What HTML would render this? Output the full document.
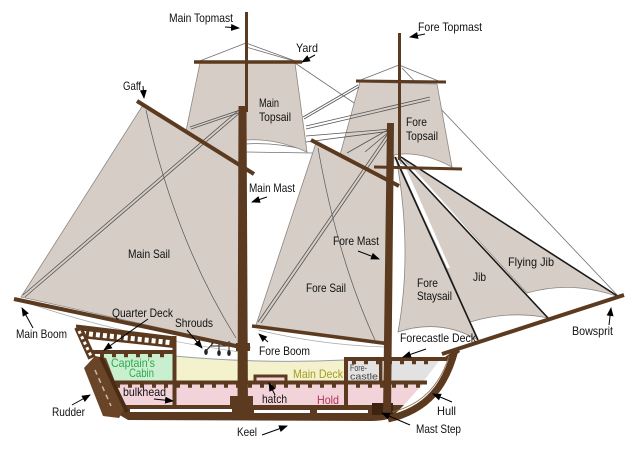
<!DOCTYPE html>
<html><head><meta charset="utf-8"><style>
html,body{margin:0;padding:0;background:#fff;}
svg{display:block;}
text{font-family:"Liberation Sans",Arial,sans-serif;font-size:12px;fill:#111;}
</style></head><body>
<svg width="640" height="449" viewBox="0 0 640 449" xmlns="http://www.w3.org/2000/svg">
<defs>
<marker id="ah" markerWidth="9" markerHeight="8" refX="8" refY="4" orient="auto" markerUnits="userSpaceOnUse">
<path d="M0,0.5 L9,4 L0,7.5 Z" fill="#000"/>
</marker>
</defs>
<rect width="640" height="449" fill="#fff"/>

<!-- background rigging -->
<g stroke="#707070" stroke-width="0.8" fill="none">
 <line x1="246" y1="43" x2="197" y2="62"/>
 <line x1="246" y1="43" x2="298" y2="62"/>
 <line x1="246" y1="47" x2="301" y2="63"/>
 <line x1="399" y1="65" x2="358" y2="81"/>
 <line x1="399" y1="65" x2="441" y2="82"/>
 <line x1="295" y1="63" x2="391" y2="128"/>
 <line x1="402" y1="68" x2="619" y2="297"/>
 <path d="M246,138 Q280,136 307,151"/>
 <path d="M246,144 Q275,142 306,150"/>
 <line x1="246" y1="152" x2="313" y2="153"/>
 <path d="M394,152 Q430,150 452,166"/>
</g>

<!-- sails -->
<g fill="#d5cdc6" stroke="#8d8782" stroke-width="0.8">
 <path d="M200,63 L295,63 L307,152 Q275,138 246,140 L246,169 L186,131 Z"/>
 <path d="M143,105 L242,166 L242,346 L21,297 Z"/>
 <path d="M360,82 L437,84 L452,167 Q420,150 394,155 L393,183 L340,155 Z"/>
 <path d="M316,143 L389,181 L387,342 L256,325 Z"/>
 <path d="M396,157 L478,340 Q440,318 398,332 Q413,250 396,157 Z"/>
 <path d="M398,157 L548,318 Q510,310 470,322 Z"/>
 <path d="M401,157 L619,297 Q572,280 527,293 Z"/>
</g>
<!-- slivers -->
<path d="M399,163 L405,166 L450,268 L447,268 Z" fill="#fff"/>
<path d="M405,163 L413,168 L492,256 L489,256 Z" fill="#fff"/>

<!-- sail seams -->
<g stroke="#555" stroke-width="0.7" fill="none">
 <path d="M146,110 Q175,240 236,338"/>
 <path d="M318,148 Q338,260 375,340"/>
 <path d="M25,302 Q120,335 240,352" stroke="#aaa"/>
 <path d="M258,330 Q320,345 385,347" stroke="#aaa"/>
</g>

<!-- rigging over sails -->
<g stroke="#555" stroke-width="0.8" fill="none">
 <line x1="23" y1="295" x2="240" y2="109"/>
 <line x1="25" y1="297" x2="242" y2="111"/>
 <line x1="190" y1="127" x2="240" y2="110"/>
 <line x1="191" y1="129" x2="241" y2="112"/>
 <line x1="303" y1="117" x2="358" y2="85"/>
 <line x1="304" y1="119" x2="359" y2="87"/>
 <line x1="306" y1="126" x2="430" y2="97"/>
 <line x1="306" y1="129" x2="430" y2="100"/>
 <line x1="306" y1="136" x2="391" y2="129"/>
 <line x1="306" y1="142" x2="391" y2="131"/>
 <line x1="258" y1="322" x2="391" y2="129"/>
 <line x1="261" y1="323" x2="393" y2="131"/>
 <line x1="347" y1="153" x2="391" y2="128"/>
 <line x1="365" y1="152" x2="391" y2="130"/>
</g>
<!-- stays -->
<g stroke="#1a1a1a" stroke-width="1.6">
 <line x1="395" y1="157" x2="478" y2="340"/>
 <line x1="398" y1="157" x2="548" y2="318"/>
 <line x1="401" y1="157" x2="619" y2="297"/>
</g>

<!-- hull fills -->
<path d="M174,356 Q260,364 345,360 L345,381 L174,381 Z" fill="#f4f1cd"/>
<path d="M174,356 Q260,364 345,360" fill="none" stroke="#9aa0a8" stroke-width="1"/>
<path d="M100,354 L174,354 L174,381 L112,381 Z" fill="#c9efcf"/>
<rect x="347" y="361" width="34" height="21" fill="#e2e2e2"/>
<path d="M389,361 L439,361 L423,382 L389,382 Z" fill="#e2e2e2"/>
<path d="M113,384 L423,384 L402,407 L124,407 Z" fill="#f2d3da"/>
<rect x="256" y="377" width="29" height="8" fill="#f2d3da"/>

<!-- hull structure -->
<g fill="#5b3a1f" stroke="none">
 <rect x="110" y="380.5" width="317" height="4"/>
 <rect x="92" y="350" width="84" height="4"/>
 <path d="M345,357 L445,357 L458,348 L460,352 L447,361 L345,361 Z"/>
 <rect x="172.5" y="336" width="4" height="76"/>
 <rect x="344" y="357" width="4" height="52"/>
 <rect x="379" y="361" width="3.5" height="21"/>
 <path d="M116,405 L404,405 L392,417 Q385,421 372,421 L128,420 L118,414 Z"/>
 <rect x="230" y="396" width="23" height="14"/>
 <rect x="372" y="403" width="21" height="12" fill="#3e2410"/>
</g>
<path d="M255,384 L255,376 L286,376 L286,384" fill="none" stroke="#5b3a1f" stroke-width="3"/>
<g stroke="#5b3a1f" stroke-width="3.5" stroke-dasharray="4 8">
 <line x1="116" y1="386" x2="420" y2="386"/>
 <line x1="100" y1="355.5" x2="172" y2="355.5"/>
 <line x1="352" y1="362.5" x2="436" y2="362.5"/>
</g>
<g fill="#fff">
 <rect x="130" y="409" width="102" height="3"/>
 <rect x="254" y="410" width="56" height="3"/>
 <rect x="317" y="410" width="51" height="3"/>
</g>
<!-- quarterdeck rail -->
<line x1="80" y1="333" x2="174" y2="343" stroke="#5b3a1f" stroke-width="10"/>
<line x1="82" y1="333.2" x2="172" y2="342.8" stroke="#fff" stroke-width="5" stroke-dasharray="4 3"/>
<line x1="76" y1="326" x2="175" y2="338" stroke="#5b3a1f" stroke-width="3"/>
<line x1="78" y1="327" x2="92" y2="358" stroke="#5b3a1f" stroke-width="8"/>
<line x1="79" y1="331" x2="91" y2="356" stroke="#fff" stroke-width="3" stroke-dasharray="3 3"/>
<!-- rudder / stern -->
<path d="M84,368 L95,356 L106,358 L125,408 L119,418 L103,416 Z" fill="#6a4426"/>
<line x1="101" y1="357" x2="127" y2="412" stroke="#4a2c14" stroke-width="4"/>
<line x1="95" y1="370" x2="111" y2="406" stroke="#c8b8a8" stroke-width="1.5" stroke-dasharray="5 4"/>
<!-- bow -->
<path d="M455,350 C446,385 428,410 388,419" fill="none" stroke="#5b3a1f" stroke-width="7"/>
<path d="M449,356 C441,382 425,404 392,412" fill="none" stroke="#8a6a50" stroke-width="0.8"/>
<!-- shrouds -->
<g stroke="#222" stroke-width="1" fill="none">
 <line x1="211" y1="343" x2="231" y2="343"/>
 <line x1="211" y1="346" x2="231" y2="346"/>
 <line x1="205" y1="352" x2="215" y2="341"/>
 <line x1="219" y1="350" x2="219" y2="341"/>
 <line x1="229" y1="350" x2="229" y2="341"/>
</g>
<g fill="#222"><ellipse cx="206" cy="352" rx="1.8" ry="3"/><ellipse cx="219" cy="353" rx="1.8" ry="3"/><ellipse cx="229" cy="353" rx="1.8" ry="3"/></g>

<!-- spars -->
<g stroke="#5b3a1f" stroke-linecap="butt">
 <line x1="246.5" y1="12" x2="246.5" y2="112" stroke-width="3"/>
 <line x1="194" y1="62" x2="302" y2="62" stroke-width="3.5"/>
 <line x1="137" y1="101" x2="254" y2="174" stroke-width="4"/>
 <line x1="14" y1="299" x2="250" y2="349" stroke-width="4"/>
 <line x1="399.5" y1="33" x2="399.5" y2="160" stroke-width="3"/>
 <line x1="356" y1="81" x2="446" y2="82" stroke-width="3"/>
 <line x1="374" y1="167" x2="462" y2="169" stroke-width="3"/>
 <line x1="311" y1="140" x2="399" y2="186" stroke-width="4"/>
 <line x1="252" y1="326" x2="390" y2="344" stroke-width="3.5"/>
 <line x1="442" y1="354" x2="624" y2="295" stroke-width="4"/>
</g>
<path d="M238.5,106 L246.5,106 L248,412 L237.5,412 Z" fill="#5b3a1f"/>
<path d="M387,123 L394,123 L391,414 L383,414 Z" fill="#5b3a1f"/>
<rect x="236" y="343" width="14" height="8" fill="#5b3a1f"/>

<!-- labels -->
<text x="169" y="22" textLength="64" lengthAdjust="spacingAndGlyphs">Main Topmast</text>
<text x="296" y="52" textLength="22" lengthAdjust="spacingAndGlyphs">Yard</text>
<text x="123" y="90" textLength="18" lengthAdjust="spacingAndGlyphs">Gaff</text>
<text x="259" y="107" textLength="20" lengthAdjust="spacingAndGlyphs">Main</text>
<text x="259" y="121" textLength="32" lengthAdjust="spacingAndGlyphs">Topsail</text>
<text x="249" y="192" textLength="46" lengthAdjust="spacingAndGlyphs">Main Mast</text>
<text x="418" y="31" textLength="64" lengthAdjust="spacingAndGlyphs">Fore Topmast</text>
<text x="406" y="126" textLength="21" lengthAdjust="spacingAndGlyphs">Fore</text>
<text x="406" y="140" textLength="32" lengthAdjust="spacingAndGlyphs">Topsail</text>
<text x="128" y="258" textLength="42" lengthAdjust="spacingAndGlyphs">Main Sail</text>
<text x="333" y="245" textLength="46" lengthAdjust="spacingAndGlyphs">Fore Mast</text>
<text x="306" y="292" textLength="40" lengthAdjust="spacingAndGlyphs">Fore Sail</text>
<text x="417" y="287" textLength="21" lengthAdjust="spacingAndGlyphs">Fore</text>
<text x="417" y="300" textLength="35" lengthAdjust="spacingAndGlyphs">Staysail</text>
<text x="473" y="281" textLength="13" lengthAdjust="spacingAndGlyphs">Jib</text>
<text x="508" y="266" textLength="46" lengthAdjust="spacingAndGlyphs">Flying Jib</text>
<text x="572" y="335" textLength="41" lengthAdjust="spacingAndGlyphs">Bowsprit</text>
<text x="400" y="342" textLength="76" lengthAdjust="spacingAndGlyphs">Forecastle Deck</text>
<text x="350" y="371" style="font-size:9.5px;fill:#444" textLength="17" lengthAdjust="spacingAndGlyphs">Fore-</text>
<text x="350" y="379.5" style="font-size:9.5px;fill:#444" textLength="28" lengthAdjust="spacingAndGlyphs">castle</text>
<text x="293" y="378" style="fill:#a39c22" textLength="50" lengthAdjust="spacingAndGlyphs">Main Deck</text>
<text x="317" y="404" style="fill:#b0305a" textLength="22" lengthAdjust="spacingAndGlyphs">Hold</text>
<text x="262" y="403" textLength="25" lengthAdjust="spacingAndGlyphs">hatch</text>
<text x="123" y="396" textLength="43" lengthAdjust="spacingAndGlyphs">bulkhead</text>
<text x="111" y="367" style="fill:#2fa84f" textLength="44" lengthAdjust="spacingAndGlyphs">Captain's</text>
<text x="129" y="377" style="fill:#2fa84f" textLength="25" lengthAdjust="spacingAndGlyphs">Cabin</text>
<text x="112" y="317" textLength="61" lengthAdjust="spacingAndGlyphs">Quarter Deck</text>
<text x="175" y="327" textLength="38" lengthAdjust="spacingAndGlyphs">Shrouds</text>
<text x="16" y="338" textLength="51" lengthAdjust="spacingAndGlyphs">Main Boom</text>
<text x="259" y="355" textLength="51" lengthAdjust="spacingAndGlyphs">Fore Boom</text>
<text x="52" y="416" textLength="33" lengthAdjust="spacingAndGlyphs">Rudder</text>
<text x="237" y="436" textLength="20" lengthAdjust="spacingAndGlyphs">Keel</text>
<text x="437" y="415" textLength="19" lengthAdjust="spacingAndGlyphs">Hull</text>
<text x="416" y="433" textLength="45" lengthAdjust="spacingAndGlyphs">Mast Step</text>

<!-- arrows -->
<g stroke="#000" stroke-width="1" fill="none" marker-end="url(#ah)">
 <line x1="225" y1="27" x2="239" y2="28"/>
 <line x1="315" y1="55" x2="302" y2="62"/>
 <line x1="143" y1="86" x2="144" y2="98"/>
 <line x1="267" y1="197" x2="252" y2="202"/>
 <line x1="425" y1="34" x2="410" y2="37"/>
 <line x1="358" y1="251" x2="379" y2="259"/>
 <line x1="609" y1="325" x2="611" y2="308"/>
 <line x1="426" y1="349" x2="403" y2="357"/>
 <line x1="452" y1="402" x2="433" y2="394"/>
 <line x1="410" y1="425" x2="382" y2="413"/>
 <line x1="262" y1="435" x2="287" y2="426"/>
 <line x1="72" y1="405" x2="90" y2="395"/>
 <line x1="154" y1="399" x2="173" y2="401"/>
 <line x1="275" y1="395" x2="269" y2="383"/>
 <line x1="187" y1="330" x2="202" y2="348"/>
 <line x1="148" y1="319" x2="104" y2="350"/>
 <line x1="33" y1="328" x2="22" y2="308"/>
 <line x1="268" y1="342" x2="259" y2="334"/>
</g>
</svg>
</body></html>
